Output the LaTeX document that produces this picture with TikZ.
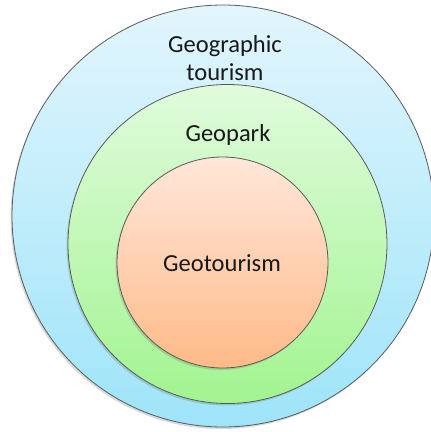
\documentclass[tikz,border=0pt]{standalone}
\usepackage{fontspec}
\setmainfont{Carlito}
\usetikzlibrary{shadows}
\definecolor{bluetop}{HTML}{E2F5FD}
\definecolor{bluebot}{HTML}{9EE4F9}
\definecolor{greentop}{HTML}{E0FBDC}
\definecolor{greenbot}{HTML}{A2F490}
\definecolor{orangetop}{HTML}{FFE7DA}
\definecolor{orangebot}{HTML}{FFBA88}
\definecolor{edgegray}{HTML}{5A5A5A}
\tikzset{
  ring/.style={circle, draw=edgegray, line width=0.8pt, inner sep=0pt,
    drop shadow={shadow xshift=-1.5pt, shadow yshift=-2pt, opacity=0.25, fill=black!60}},
  lbl/.style={font=\fontsize{24.5}{27.5}\selectfont, text=black!90, align=center, inner sep=0pt}
}
\begin{document}
\begin{tikzpicture}[x=1pt,y=-1pt]
\useasboundingbox (0,0) rectangle (431,432);
\clip (0,0) rectangle (431,432);
\node[ring, minimum size=422pt, top color=bluetop, bottom color=bluebot] (outer) at (223,216) {};
\node[ring, minimum size=319pt, top color=greentop, bottom color=greenbot] (middle) at (227.5,244) {};
\node[ring, minimum size=211pt, top color=orangetop, bottom color=orangebot] (inner) at (222.5,262.5) {};
\node[lbl] (t1) at (225,58) {Geographic\\tourism};
\node[lbl] (t2) at (228,135) {Geopark};
\node[lbl] (t3) at (222,263) {Geotourism};
\end{tikzpicture}
\end{document}
